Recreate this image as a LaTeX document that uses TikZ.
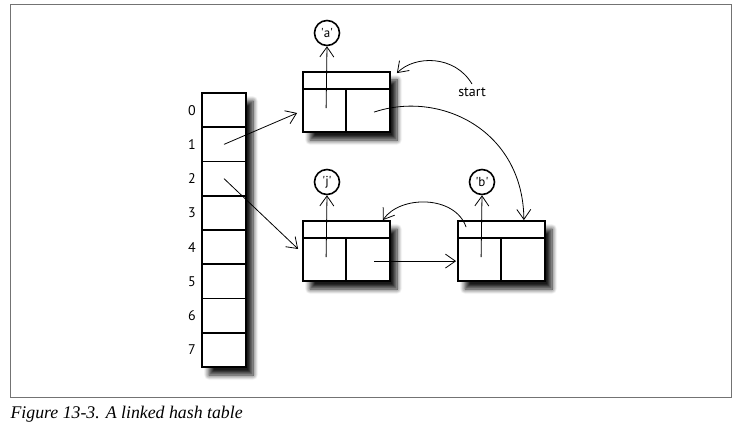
\documentclass[tikz,border=0pt]{standalone}
\usepackage{fontspec}
\setmainfont{Liberation Serif}
\newfontfamily\labelfont{PT Sans}
\usetikzlibrary{arrows.meta,shadows.blur}

\begin{document}
\begin{tikzpicture}
  [
    x=1pt, y=-1pt,
    >={Straight Barb[length=10pt,width=14pt]},
    frame/.style = {draw=black!55, line width=1pt},
    shade/.style = {blur shadow={shadow xshift=7pt, shadow yshift=-8pt, shadow blur radius=5pt, shadow blur steps=8, shadow opacity=90}},
    cell/.style  = {draw, line width=1.8pt, minimum width=44pt, minimum height=34.25pt, inner sep=0pt},
    entry/.style = {draw, line width=1.8pt, fill=white, minimum width=87pt, minimum height=60pt, inner sep=0pt, shade},
    value/.style = {draw, circle, line width=1.6pt, minimum size=25pt, inner sep=0pt, font=\labelfont\fontsize{13}{14}\selectfont},
    idx/.style   = {font=\labelfont\fontsize{14}{15}\selectfont},
    ptr/.style   = {->, line width=0.8pt},
  ]

\useasboundingbox (0,0) rectangle (752,430);

%Outer frame and caption
\draw[frame] (10,5) rectangle (731,397);
\node[anchor=west, font=\itshape\fontsize{17.8}{19}\selectfont] (cap) at (7,414) {Figure 13-3. A linked hash table};

%Bucket array with its shadow
\def \tx{224}
\def \ty{93}
\def \h{34.25}
\node[draw=none, fill=white, minimum width=44pt, minimum height=274pt, inner sep=0pt, shade]
      (tab) at (\tx, \ty+137) {};
\foreach \i in {0,...,7}
{
\node[cell] (t\i) at (\tx, {\ty+(\i+0.5)*\h}) {};
\node[idx, anchor=center] (l\i) at (192, {\ty+(\i+0.5)*\h}) {\i};
}

%List entries: header row, two cells, value above
\foreach \n/\x/\y/\v in {na/346.5/102/a, nj/346.5/251/j, nb/501.5/251/b}
{
\node[entry] (\n) at (\x,\y) {};
\draw[line width=1.8pt] ([yshift=-18pt]\n.north west) -- ([yshift=-18pt]\n.north east);
\draw[line width=1.8pt] ([shift={(44,18)}]\n.north west) -- ([xshift=44pt]\n.south west);
\coordinate (\n-l) at ([shift={(24,37)}]\n.north west);
\coordinate (\n-r) at ([shift={(72,41)}]\n.north west);
\node[value] (v\v) at (\x-19.5, \y-69) {\textquotesingle\v\textquotesingle};
\draw[ptr] (\n-l) -- (v\v.south);
}

%Buckets pointing into the lists
\draw[ptr] (t1.center) -- ([shift={(-5,11)}]na.west);
\draw[ptr] (t2.center) -- ([shift={(-4,-2)}]nj.west);

%Links between entries
\draw[ptr] (nj-r) -- ([xshift=-1pt]nj-r -| nb.west);
\draw[ptr] (na-r) .. controls (440,90) and (523,130) .. ([xshift=-22pt]nb.north east);
\draw[ptr] ([shift={(9,7)}]nb.north west) .. controls (455,195) and (400,195) .. ([xshift=-8pt]nj.north east);

%Start marker
\node[idx] (st) at (472,92) {start};
\draw[ptr] (st.north) .. controls (455,55) and (415,55) .. ([shift={(6,2)}]na.north east);
\end{tikzpicture}
\end{document}
